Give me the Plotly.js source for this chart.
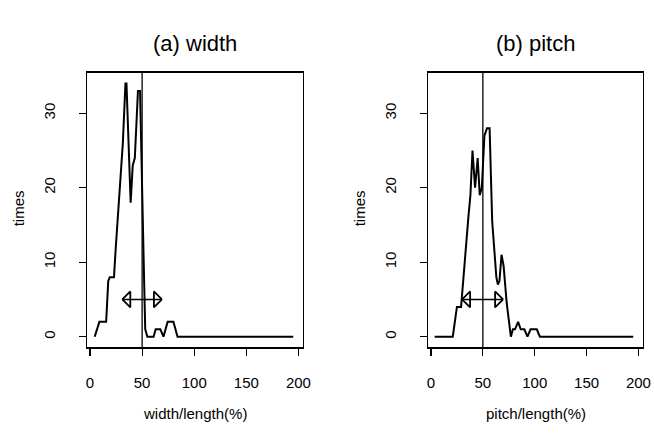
<!DOCTYPE html>
<html><head><meta charset="utf-8">
<script src="https://cdn.plot.ly/plotly-3.0.1.min.js"></script>
<style>html,body{margin:0;padding:0;background:#fff}#chart{width:654px;height:433px}</style>
</head><body><div id="chart"></div>
<script>
// ---- data ----
const panelTitles = ["(a) width", "(b) pitch"];
const xTitles = ["width/length(%)", "pitch/length(%)"];
const yTitle = "times";
const xTicks = [0, 50, 100, 150, 200];
const yTicks = [0, 10, 20, 30];

const widthX = [4.5, 9, 15.5, 17.5, 19, 23, 24.5, 27.5, 31.5, 34, 35, 39, 41, 43, 46, 48, 50, 52, 53, 55, 61, 63, 67.5, 70.5, 74.5, 80, 84, 195];
const widthY = [0, 2, 2, 7.5, 8, 8, 11.5, 18, 26, 34, 34, 18, 23, 24, 33, 33, 18, 7, 1, 0, 0, 1, 1, 0, 2, 2, 0, 0];

const pitchX = [3.5, 21, 25, 29, 36, 38, 40, 42.5, 45, 47, 49, 51.5, 54, 56.5, 59, 61, 63, 64.5, 66, 68, 70, 73, 77, 79, 81, 84, 86.5, 90, 93, 96, 102, 105, 195];
const pitchY = [0, 0, 4, 4, 16, 19, 25, 20, 24, 19, 20, 27, 28, 28, 15.5, 12, 8, 7, 7.5, 11, 9.5, 4.5, 0, 1, 1, 2, 1, 1, 0, 1, 1, 0, 0];

const refLine = 50;           // vertical reference line
const arrowFrom = [31, 30];   // double arrow left ends
const arrowTo = [69, 69.5];   // double arrow right ends
const arrowY = [5, 5];

// ---- layout geometry ----
const W = 654, H = 433;
const xRange = [-2.6, 204.1];
const yRange = [-1.38, 35.45];
const boxTop = 72.7, boxBottom = 347;
const boxes = [[87.3, 302.7], [428.3, 642.7]];
const font = "Liberation Sans, Arial, Helvetica, sans-serif";

const px2fx = p => p / W;
const px2fy = p => 1 - p / H;

const traces = [];
const series = [[widthX, widthY], [pitchX, pitchY]];
series.forEach((s, i) => {
  const xa = i === 0 ? 'x' : 'x2', ya = i === 0 ? 'y' : 'y2';
  traces.push({x: s[0], y: s[1], xaxis: xa, yaxis: ya, type: 'scatter', mode: 'lines',
    line: {color: '#000', width: 2}, hoverinfo: 'skip', showlegend: false});
  // double arrow with open heads
  const pxPerX = (boxes[i][1] - boxes[i][0]) / (xRange[1] - xRange[0]);
  const pxPerY = (boxBottom - boxTop) / (yRange[1] - yRange[0]);
  const hl = 8 / pxPerX, hh = 8 / pxPerY;
  const a0 = arrowFrom[i], a1 = arrowTo[i], ay = arrowY[i];
  traces.push({x: [a0, a1], y: [ay, ay], xaxis: xa, yaxis: ya, type: 'scatter', mode: 'lines',
    line: {color: '#000', width: 1.5}, hoverinfo: 'skip', showlegend: false});
  traces.push({x: [a0, a0 + hl, a0 + hl, a0, null, a1, a1 - hl, a1 - hl, a1],
    y: [ay, ay + hh, ay - hh, ay, null, ay, ay + hh, ay - hh, ay],
    xaxis: xa, yaxis: ya, type: 'scatter', mode: 'lines',
    line: {color: '#000', width: 1.8}, hoverinfo: 'skip', showlegend: false});
});

function xAxis(i) {
  return {domain: [px2fx(boxes[i][0]), px2fx(boxes[i][1])], range: xRange, anchor: i === 0 ? 'y' : 'y2',
    tickmode: 'array', tickvals: xTicks, ticktext: xTicks.map(String), ticks: 'outside', ticklen: 7, tickwidth: 1.2,
    tickcolor: '#000', showline: true, mirror: true, linecolor: '#000', linewidth: 1.5,
    showgrid: false, zeroline: false, ticklabelstandoff: 14,
    tickfont: {family: font, size: 15, color: '#000'}, fixedrange: true};
}
function yAxis(i) {
  return {domain: [px2fy(boxBottom), px2fy(boxTop)], range: yRange, anchor: i === 0 ? 'x' : 'x2',
    tickmode: 'array', tickvals: yTicks, ticktext: yTicks.map(String), ticks: 'outside', ticklen: 7, tickwidth: 1.2,
    tickcolor: '#000', showline: true, mirror: true, linecolor: '#000', linewidth: 1.5,
    showgrid: false, zeroline: false, tickangle: -90, ticklabelstandoff: 18,
    tickfont: {family: font, size: 15, color: '#000'}, fixedrange: true};
}

const annotations = [];
for (let i = 0; i < 2; i++) {
  const cx = (boxes[i][0] + boxes[i][1]) / 2;
  annotations.push({text: panelTitles[i], xref: 'paper', yref: 'paper', x: px2fx(cx), y: px2fy(43),
    xanchor: 'center', yanchor: 'middle', showarrow: false, font: {family: font, size: 22, color: '#000'}});
  annotations.push({text: xTitles[i], xref: 'paper', yref: 'paper', x: px2fx(cx), y: px2fy(413),
    xanchor: 'center', yanchor: 'middle', showarrow: false, font: {family: font, size: 15, color: '#000'}});
  annotations.push({text: yTitle, xref: 'paper', yref: 'paper', x: px2fx(boxes[i][0] - 69), y: px2fy(208),
    xanchor: 'center', yanchor: 'middle', textangle: -90, showarrow: false, font: {family: font, size: 15, color: '#000'}});
}

const shapes = [
  {type: 'line', xref: 'x', yref: 'y domain', x0: refLine, x1: refLine, y0: 0, y1: 1, line: {color: '#000', width: 1.3}},
  {type: 'line', xref: 'x2', yref: 'y2 domain', x0: refLine, x1: refLine, y0: 0, y1: 1, line: {color: '#000', width: 1.3}}
];

const layout = {
  width: W, height: H, margin: {l: 0, r: 0, t: 0, b: 0},
  paper_bgcolor: '#fff', plot_bgcolor: '#fff', showlegend: false,
  xaxis: xAxis(0), yaxis: yAxis(0), xaxis2: xAxis(1), yaxis2: yAxis(1),
  annotations: annotations, shapes: shapes, font: {family: font, color: '#000'}
};
Plotly.newPlot('chart', traces, layout, {displayModeBar: false, staticPlot: true});
</script>
</body></html>
